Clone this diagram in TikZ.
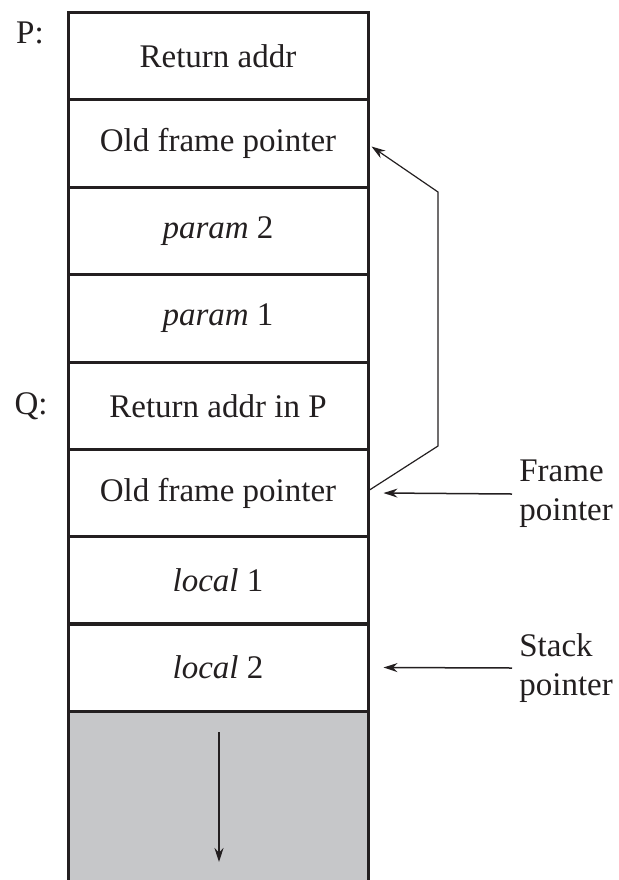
\documentclass[tikz,border=0pt]{standalone}
\usepackage{fontspec}
\setmainfont{Liberation Serif}
\usetikzlibrary{arrows.meta}
\definecolor{ink}{HTML}{231F20}
\definecolor{stackgray}{HTML}{C6C7C9}
\begin{document}
\begin{tikzpicture}[x=0.5pt,y=-0.5pt,
  cell/.style={draw=ink,line width=1.5pt,minimum width=150pt,minimum height=43.7pt,inner sep=0pt,
    font=\fontsize{16.5pt}{19.8pt}\selectfont,text=ink},
  lbl/.style={font=\fontsize{16.5pt}{19.8pt}\selectfont,text=ink,inner sep=0pt},
  side/.style={font=\fontsize{16.5pt}{19.6pt}\selectfont,text=ink,inner sep=0pt,align=left,anchor=west},
  ptr/.style={draw=ink,line width=0.75pt,-{Stealth[length=7pt,width=4.5pt]}}]
\useasboundingbox (0,0) rectangle (619,880);
\node[cell] (c1) at (218,56) {Return addr};
\node[cell] (c2) at (218,143.5) {Old frame pointer};
\node[cell] (c3) at (218,231) {\textit{param} 2};
\node[cell] (c4) at (218,318.5) {\textit{param} 1};
\node[cell] (c5) at (218,406) {Return addr in P};
\node[cell] (c6) at (218,493) {Old frame pointer};
\node[cell] (c7) at (218,580.5) {\textit{local} 1};
\node[cell] (c8) at (218,667.5) {\textit{local} 2};
% growth region
\fill[stackgray] (68,711) rectangle (368,882);
\draw[ink,line width=1.5pt] (68,711) -- (68,882) (368,711) -- (368,882) (68,711) -- (368,711);
\coordinate (gtop) at (219,732);
\coordinate (gbot) at (219,862);
\draw[ptr] (gtop) -- (gbot);
\node[lbl] (p) at (30,33) {P:};
\node[lbl] (q) at (31,406) {Q:};
% saved frame pointer link
\coordinate (k1) at (438,446);
\coordinate (k2) at (438,192);
\draw[ptr,line width=0.6pt] ([yshift=1.5pt]c6.east) -- (k1) -- (k2) -- ([xshift=1pt,yshift=-1.5pt]c2.east);
% side labels
\node[side] (fp) at (519,494) {Frame\\pointer};
\node[side] (sp) at (519,668) {Stack\\pointer};
\draw[ptr] ([xshift=-3.5pt]fp.west) -- ([xshift=7pt]c6.east);
\draw[ptr] ([xshift=-3.5pt]sp.west) -- ([xshift=7pt]c8.east);
\end{tikzpicture}
\end{document}
